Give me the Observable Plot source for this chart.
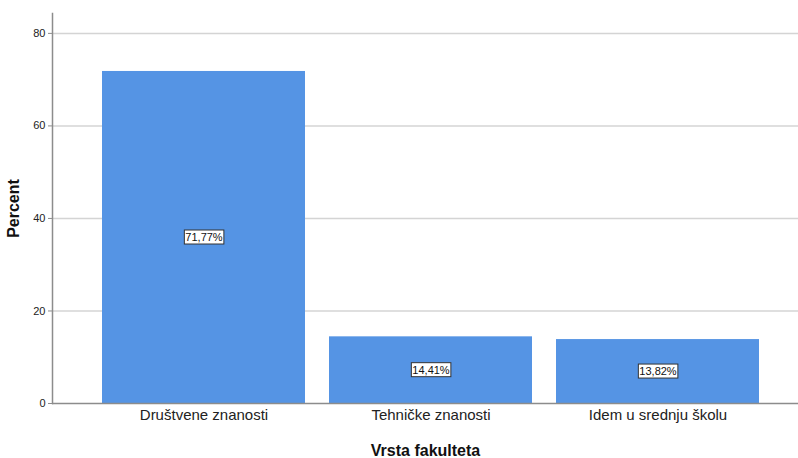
<!DOCTYPE html>
<html>
<head>
<meta charset="utf-8">
<script src="https://cdn.jsdelivr.net/npm/d3@7"></script>
<script src="https://cdn.jsdelivr.net/npm/@observablehq/plot@0.6"></script>
<style>
  html, body { margin: 0; padding: 0; background: #fff; }
  svg { display: block; }
</style>
</head>
<body>
<div id="chart"></div>
<script>
const categories = ["Društvene znanosti", "Tehničke znanosti", "Idem u srednju školu"];
const percents = [71.77, 14.41, 13.82];
const yTicks = [0, 20, 40, 60, 80];

const data = categories.map((c, i) => ({category: c, percent: percents[i]}));
const fmt = v => v.toFixed(2).replace(".", ",") + "%";

const chart = Plot.plot({
  width: 798,
  height: 458,
  marginTop: 13,
  marginBottom: 55,
  marginLeft: 52,
  marginRight: 0,
  style: {fontFamily: "'Liberation Sans', Arial, sans-serif", background: "#fff", color: "#222"},
  x: {domain: categories, range: [89, 773], paddingInner: 0.105, paddingOuter: 0.0526, label: null},
  y: {domain: [0, 84.3], label: null},
  marks: [
    Plot.ruleY(yTicks.filter(d => d > 0), {stroke: "#d4d4d4", strokeWidth: 1.5}),
    Plot.barY(data, {x: "category", y: "percent", fill: "#5594E4"}),
    Plot.ruleY([0], {stroke: "#8c8c8c", strokeWidth: 1.5}),
    Plot.frame({anchor: "left", stroke: "#8c8c8c", strokeWidth: 1.5}),
    Plot.axisY({ticks: yTicks, tickSize: 4, tickPadding: 3, fontSize: 11, stroke: "#8c8c8c", label: "Percent", labelAnchor: "center", labelArrow: "none", labelOffset: 45}),
    Plot.axisX({tickSize: 0, tickPadding: 6, fontSize: 15, label: "Vrsta fakulteta", labelAnchor: "center", labelArrow: "none", labelOffset: 52}),
    Plot.text(data, {x: "category", y: d => d.percent / 2, text: d => fmt(d.percent), fontSize: 11, fill: "#111", className: "vlabel"})
  ]
});

document.getElementById("chart").appendChild(chart);

// axis titles bold
d3.select(chart).selectAll("g[aria-label='y-axis label'] text, g[aria-label='x-axis label'] text")
  .attr("font-weight", "bold").attr("font-size", 16).attr("fill", "#111");

// white boxes behind value labels
d3.select(chart).selectAll("g.vlabel text, .vlabel text").each(function() {
  const b = this.getBBox();
  const g = this.parentNode;
  const t = this.getAttribute("transform");
  const r = document.createElementNS("http://www.w3.org/2000/svg", "rect");
  r.setAttribute("x", b.x - 1);
  r.setAttribute("y", b.y - 1);
  r.setAttribute("width", b.width + 2);
  r.setAttribute("height", b.height + 2);
  r.setAttribute("fill", "#fff");
  r.setAttribute("stroke", "#333");
  r.setAttribute("stroke-width", 1);
  if (t) r.setAttribute("transform", t);
  g.insertBefore(r, this);
});
</script>
</body>
</html>
